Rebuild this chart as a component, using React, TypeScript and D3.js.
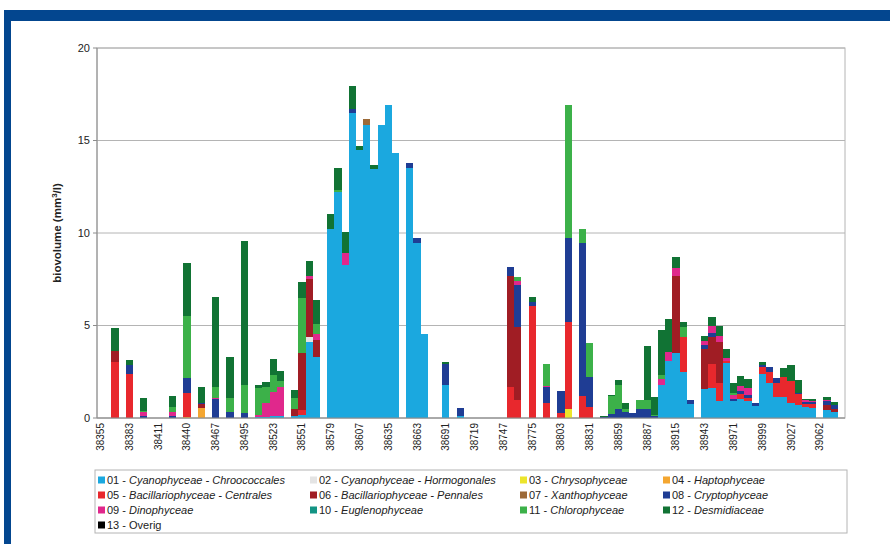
import React from 'react'
import * as d3 from 'd3'

const width = 890
const height = 544
const plot = { left: 97, right: 845, top: 48, bottom: 418 }

// weekly slots on the category axis, one label every 4th slot
const slotCount = 104
const xTickLabels = [
  '38355', '38383', '38411', '38440', '38467', '38495', '38523', '38551', '38579',
  '38607', '38635', '38663', '38691', '38719', '38747', '38775', '38803', '38831',
  '38859', '38887', '38915', '38943', '38971', '38999', '39027', '39062',
]
const yTicks = [0, 5, 10, 15, 20]

// slots where a sample was taken
const sampleSlots = [
  2, 4, 6, 10, 12, 14, 16, 18, 20, 22,
  23, 24, 25, 27, 28, 29, 30, 32, 33, 34,
  35, 36, 37, 38, 39, 40, 41, 43, 44, 45,
  48, 50, 57, 58, 60, 62, 64, 65, 67, 68,
  70, 71, 72, 73, 74, 75, 76, 77, 78, 79,
  80, 81, 82, 84, 85, 86, 87, 88, 89, 90,
  91, 92, 93, 94, 95, 96, 97, 98, 99, 101,
  102,
]

const chroococcales = [
  0, 0, 0, 0, 0, 0, 0, 0, 0, 0.05,
  0.05, 0.1, 0.1, 0.1, 0.15, 4.1, 3.3, 10.2, 12.2, 8.25,
  16.5, 14.5, 15.85, 13.45, 15.85, 16.94, 14.32, 13.5, 9.45, 4.56,
  1.8, 0.1, 0, 0, 0, 0, 0, 0, 0, 0,
  0, 0, 0, 0, 0, 0, 0, 0, 1.8, 3.1,
  3.5, 2.5, 0.75, 1.55, 1.6, 0.9, 2.95, 0.9, 1.05, 0.9,
  0.65, 2.4, 1.9, 1.15, 1.15, 0.8, 0.7, 0.6, 0.55, 0.45,
  0.3,
]
const hormogonales = [
  0, 0, 0, 0, 0, 0, 0, 0, 0, 0,
  0, 0, 0, 0, 0, 0.3, 0, 0, 0, 0,
  0, 0, 0, 0, 0, 0, 0, 0, 0, 0,
  0, 0, 0, 0, 0, 0, 0, 0, 0, 0,
  0, 0, 0, 0, 0, 0, 0, 0, 0, 0,
  0, 0, 0, 0, 0, 0, 0, 0, 0, 0,
  0, 0, 0, 0, 0, 0, 0, 0, 0, 0,
  0,
]
const chrysophyceae = [
  0, 0, 0, 0, 0, 0, 0, 0, 0, 0,
  0, 0, 0, 0, 0, 0, 0, 0, 0, 0,
  0, 0, 0, 0, 0, 0, 0, 0, 0, 0,
  0, 0, 0, 0, 0, 0, 0, 0.5, 0, 0,
  0, 0, 0, 0, 0, 0, 0, 0, 0, 0,
  0, 0, 0, 0, 0, 0, 0, 0, 0, 0,
  0, 0, 0, 0, 0, 0, 0, 0, 0, 0,
  0,
]
const haptophyceae = [
  0, 0, 0, 0, 0.08, 0.55, 0, 0, 0, 0,
  0, 0, 0, 0, 0, 0, 0, 0, 0, 0,
  0, 0, 0, 0, 0, 0, 0, 0, 0, 0,
  0, 0, 0, 0, 0, 0, 0, 0, 0, 0,
  0, 0, 0, 0, 0, 0, 0, 0, 0, 0,
  0, 0, 0, 0, 0, 0, 0, 0, 0, 0,
  0, 0, 0, 0, 0, 0, 0, 0, 0, 0,
  0,
]
const centrales = [
  3.05, 2.4, 0, 0, 1.27, 0, 0, 0, 0, 0,
  0, 0, 0, 0, 0.3, 0, 0, 0, 0, 0,
  0, 0, 0, 0, 0, 0, 0, 0, 0, 0,
  0, 0, 1.7, 1.0, 6.05, 0.8, 0.25, 4.7, 1.2, 0.6,
  0, 0, 0, 0, 0, 0, 0, 0, 0, 0,
  0, 1.9, 0, 0, 1.3, 1.0, 0.15, 0, 0.25, 0.2,
  0, 0.35, 0.6, 0.75, 1.05, 1.2, 0.6, 0.15, 0.2, 0,
  0,
]
const pennales = [
  0.55, 0, 0, 0, 0, 0.2, 0, 0, 0, 0,
  0, 0, 0, 0.4, 3.05, 3.1, 0.9, 0, 0, 0,
  0, 0, 0, 0, 0, 0, 0, 0, 0, 0,
  0, 0, 5.95, 3.9, 0, 0, 0, 0, 0, 0,
  0, 0, 0, 0, 0, 0, 0, 0, 0, 0,
  4.2, 0, 0, 2.2, 1.5, 2.2, 0, 0, 0, 0,
  0, 0, 0, 0, 0, 0, 0, 0, 0, 0.25,
  0.2,
]
const xanthophyceae = [
  0, 0, 0, 0, 0, 0, 0, 0, 0, 0,
  0, 0, 0, 0, 0, 0, 0, 0, 0, 0,
  0, 0, 0.3, 0, 0, 0, 0, 0, 0, 0,
  0, 0, 0, 0, 0, 0, 0, 0, 0, 0,
  0, 0, 0, 0, 0, 0, 0, 0, 0, 0,
  0, 0, 0, 0, 0, 0, 0, 0, 0, 0,
  0, 0, 0, 0, 0, 0, 0, 0, 0, 0,
  0,
]
const cryptophyceae = [
  0, 0.45, 0.1, 0.12, 0.81, 0.05, 1.05, 0.3, 0.25, 0,
  0, 0, 0, 0, 0, 0, 0, 0, 0, 0,
  0.2, 0, 0, 0, 0, 0, 0, 0.3, 0.28, 0,
  1.1, 0.45, 0.5, 2.3, 0.2, 0.85, 1.2, 4.55, 8.25, 1.6,
  0.05, 0.2, 0.5, 0.3, 0.25, 0.5, 0.5, 0.1, 0, 0,
  0, 0, 0.25, 0.2, 0.2, 0, 0, 0.15, 0.15, 0.15,
  0.15, 0.1, 0.25, 0.26, 0, 0, 0.05, 0.1, 0.1, 0.2,
  0.2,
]
const dinophyceae = [
  0, 0, 0.2, 0.2, 0, 0, 0.05, 0, 0, 0.1,
  0.75, 1.3, 1.6, 0, 0, 0.15, 0.35, 0, 0, 0.65,
  0, 0, 0, 0, 0, 0, 0, 0, 0, 0,
  0, 0, 0, 0.2, 0, 0.1, 0, 0, 0, 0,
  0, 0, 0, 0, 0, 0, 0, 0, 0.3, 0.45,
  0.4, 0, 0, 0.2, 0.35, 0.35, 0.15, 0.2, 0.3, 0.35,
  0, 0, 0, 0, 0, 0, 0, 0.1, 0.08, 0.1,
  0,
]
const euglenophyceae = [
  0, 0, 0, 0, 0, 0, 0, 0, 0, 0,
  0, 0, 0, 0, 0, 0, 0, 0, 0, 0,
  0, 0, 0, 0, 0, 0, 0, 0, 0, 0,
  0, 0, 0, 0, 0, 0, 0, 0, 0, 0,
  0, 0, 0, 0, 0, 0, 0, 0, 0, 0,
  0, 0, 0, 0, 0, 0, 0, 0, 0, 0,
  0, 0, 0, 0, 0, 0, 0, 0, 0, 0,
  0,
]
const chlorophyceae = [
  0, 0, 0.1, 0.3, 3.33, 0, 0.6, 0.8, 1.55, 1.45,
  0.9, 0.9, 0.3, 0.6, 2.98, 0.05, 0.55, 0, 0.15, 0,
  0, 0, 0, 0, 0, 0, 0, 0, 0, 0,
  0, 0, 0, 0.2, 0, 1.15, 0, 7.15, 0.75, 1.85,
  0, 1.0, 1.3, 0.2, 0, 0.45, 0.5, 0.05, 0.2, 0,
  0, 0.5, 0, 0, 0, 0, 0, 0.1, 0, 0,
  0, 0, 0, 0, 0, 0, 0, 0, 0, 0,
  0,
]
const desmidiaceae = [
  1.25, 0.3, 0.7, 0.55, 2.89, 0.9, 4.86, 2.2, 7.75, 0.2,
  0.22, 0.9, 0.55, 0.43, 0.86, 0.8, 1.3, 0.85, 1.15, 1.15,
  1.25, 0.22, 0, 0.25, 0, 0, 0, 0, 0, 0,
  0.15, 0, 0, 0, 0.27, 0, 0, 0, 0, 0,
  0.08, 0.06, 0.27, 0.3, 0, 0, 2.9, 1.0, 2.45, 1.8,
  0.6, 0.3, 0, 0.3, 0.5, 0.55, 0.48, 0.55, 0.5, 0.5,
  0, 0.2, 0, 0, 0.5, 0.85, 0.72, 0.1, 0.1, 0.15,
  0.15,
]
const overig = [
  0, 0, 0, 0, 0, 0, 0, 0, 0, 0,
  0, 0, 0, 0, 0, 0, 0, 0, 0, 0,
  0, 0, 0, 0, 0, 0, 0, 0, 0, 0,
  0, 0, 0, 0, 0, 0, 0, 0, 0, 0,
  0, 0, 0, 0, 0, 0, 0, 0, 0, 0,
  0, 0, 0, 0, 0, 0, 0, 0, 0, 0,
  0, 0, 0, 0, 0, 0, 0, 0, 0, 0,
  0,
]

const seriesValues = [
  chroococcales, hormogonales, chrysophyceae, haptophyceae, centrales, pennales,
  xanthophyceae, cryptophyceae, dinophyceae, euglenophyceae, chlorophyceae,
  desmidiaceae, overig,
]
const seriesNumbers = ['01', '02', '03', '04', '05', '06', '07', '08', '09', '10', '11', '12', '13']
const seriesNames = [
  'Cyanophyceae - Chroococcales',
  'Cyanophyceae - Hormogonales',
  'Chrysophyceae',
  'Haptophyceae',
  'Bacillariophyceae - Centrales',
  'Bacillariophyceae - Pennales',
  'Xanthophyceae',
  'Cryptophyceae',
  'Dinophyceae',
  'Euglenophyceae',
  'Chlorophyceae',
  'Desmidiaceae',
  'Overig',
]
const seriesColors = [
  '#1ba8df', '#e4e4e4', '#ece52b', '#f4a630', '#e8282d', '#a01d24', '#9c6a38',
  '#1f3d94', '#e0288c', '#139484', '#3cb149', '#117334', '#000000',
]

const font = "'Liberation Sans', Arial, sans-serif"

export default function App() {
  const keys = seriesValues.map((_, i) => 's' + i)
  const rows = sampleSlots.map((slot, j) => {
    const row: any = { slot }
    seriesValues.forEach((vals, i) => {
      row['s' + i] = vals[j]
    })
    return row
  })
  const stacked = d3.stack().keys(keys)(rows)

  const x = d3
    .scaleBand<number>()
    .domain(d3.range(slotCount))
    .range([plot.left, plot.right])
    .padding(0)
  const y = d3.scaleLinear().domain([0, 20]).range([plot.bottom, plot.top])
  const bw = x.bandwidth()

  const legendCols = [98, 310, 520, 663]
  const legendRows = [480, 495, 510, 525]

  return (
    <svg
      width={width}
      height={height}
      style={{ position: 'absolute', left: 0, top: 0, background: '#fff' }}
      fontFamily={font}
    >
      {/* blue frame */}
      <rect x={4} y={10} width={width - 4} height={11} fill="#03468f" />
      <rect x={4} y={10} width={7} height={height - 10} fill="#03468f" />

      {/* grid */}
      {yTicks.map(t => (
        <line key={t} x1={plot.left} x2={plot.right} y1={y(t)} y2={y(t)} stroke="#b4b4b4" strokeWidth={1} />
      ))}
      <rect
        x={plot.left}
        y={plot.top}
        width={plot.right - plot.left}
        height={plot.bottom - plot.top}
        fill="none"
        stroke="#b4b4b4"
      />

      {/* bars */}
      {stacked.map((layer, i) => (
        <g key={layer.key} fill={seriesColors[i]}>
          {layer.map((d: any, j) =>
            d[1] - d[0] > 0 ? (
              <rect
                key={j}
                x={x(d.data.slot)}
                width={bw}
                y={y(d[1])}
                height={y(d[0]) - y(d[1])}
                shapeRendering="crispEdges"
              />
            ) : null
          )}
        </g>
      ))}

      {/* axes */}
      <line x1={plot.left} x2={plot.left} y1={plot.top} y2={plot.bottom} stroke="#8c8c8c" />
      <line x1={plot.left} x2={plot.right} y1={plot.bottom} y2={plot.bottom} stroke="#8c8c8c" />
      {yTicks.map(t => (
        <g key={t}>
          <line x1={plot.left - 4} x2={plot.left} y1={y(t)} y2={y(t)} stroke="#8c8c8c" />
          <text x={plot.left - 7} y={y(t)} dy="0.35em" textAnchor="end" fontSize={11} fill="#222">
            {t}
          </text>
        </g>
      ))}
      {xTickLabels.map((label, i) => {
        const cx = (x(i * 4) as number) + bw / 2
        return (
          <text
            key={label}
            transform={`translate(${cx + 3.5},${plot.bottom + 5}) rotate(-90)`}
            textAnchor="end"
            fontSize={10}
            fill="#222"
          >
            {label}
          </text>
        )
      })}
      <text
        transform={`translate(61,${(plot.top + plot.bottom) / 2}) rotate(-90)`}
        textAnchor="middle"
        fontSize={11.5}
        fontWeight="bold"
        fill="#222"
      >
        biovolume (mm
        <tspan fontSize={8} dy={-4}>3</tspan>
        <tspan dy={4}>/l)</tspan>
      </text>

      {/* legend */}
      <rect x={95} y={470} width={752} height={63} fill="#fff" stroke="#b4b4b4" />
      {seriesNames.map((name, i) => {
        const lx = legendCols[i % 4]
        const ly = legendRows[Math.floor(i / 4)]
        return (
          <g key={name}>
            <rect x={lx} y={ly - 3.5} width={7} height={7} fill={seriesColors[i]} />
            <text x={lx + 9} y={ly} dy="0.35em" fontSize={11} fill="#222">
              {seriesNumbers[i]} -{' '}
              <tspan fontStyle={name === 'Overig' ? 'normal' : 'italic'}>{name}</tspan>
            </text>
          </g>
        )
      })}
    </svg>
  )
}
